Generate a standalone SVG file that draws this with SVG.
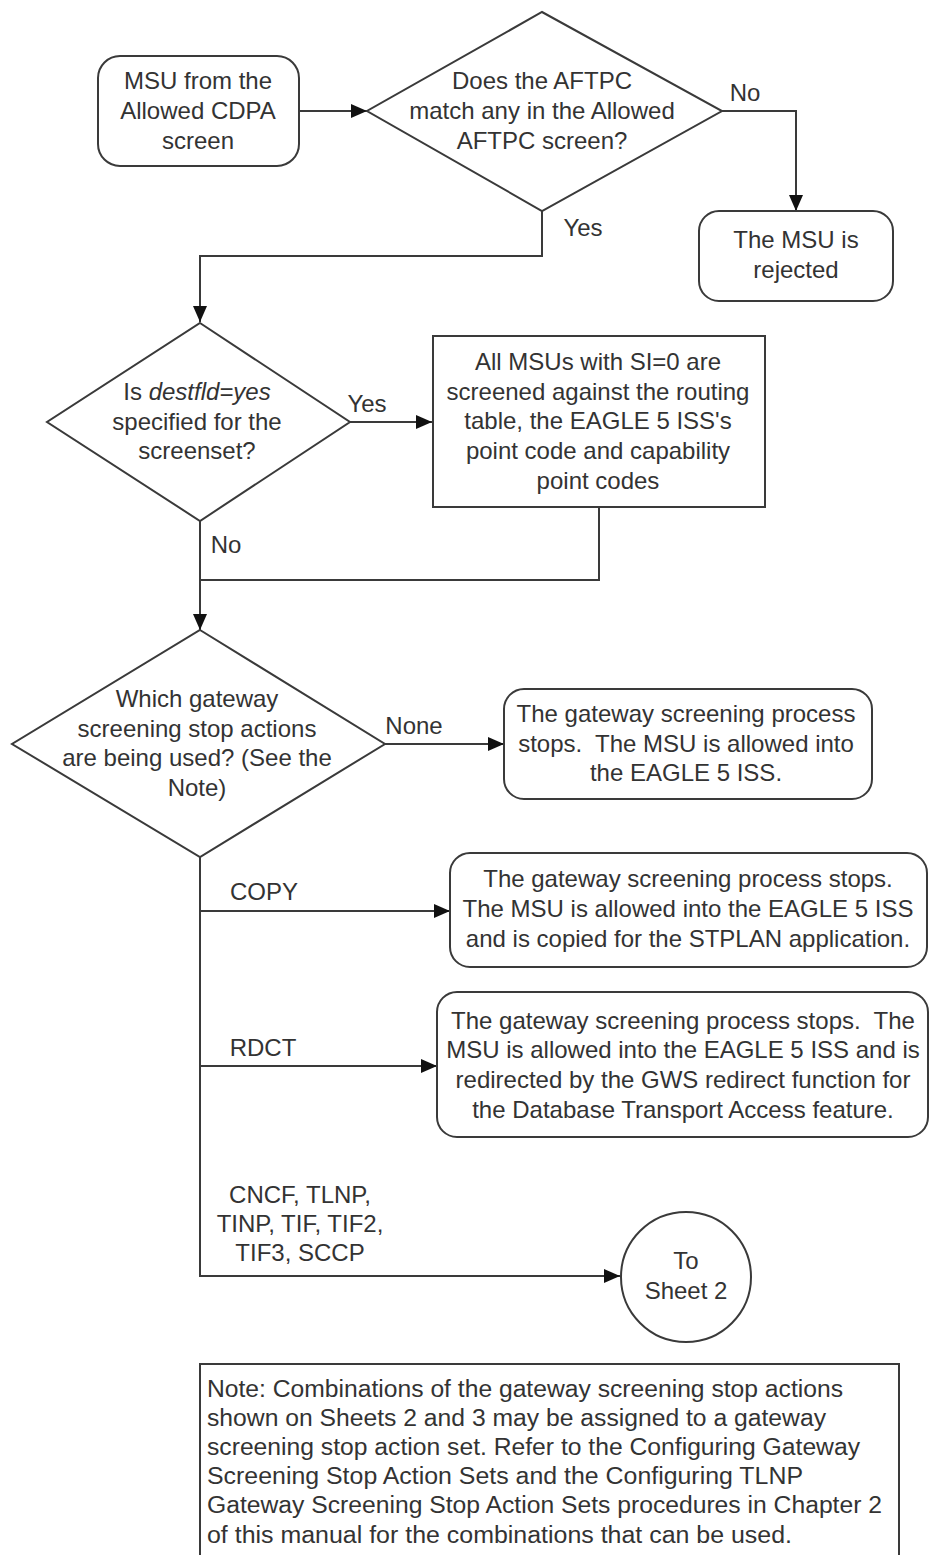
<svg xmlns="http://www.w3.org/2000/svg" width="929" height="1555" viewBox="0 0 929 1555">
<style>
text{font-family:"Liberation Sans",Arial,sans-serif;font-size:24px;fill:#333;text-anchor:middle}
.n{text-anchor:start;font-size:23px}
.s{fill:#fff;stroke:#3a3a3a;stroke-width:2}
.c{fill:none;stroke:#3a3a3a;stroke-width:2}
</style>
<defs>
<marker id="a" markerUnits="userSpaceOnUse" markerWidth="16" markerHeight="14" refX="16" refY="7" orient="auto">
<path d="M0,0 L16,7 L0,14 Z" fill="#111"/>
</marker>
</defs>
<rect width="929" height="1555" fill="#fff"/>
<g id="connectors">
<path class="c" d="M300,111 H367" marker-end="url(#a)"/>
<path class="c" d="M722,111 H796 V211" marker-end="url(#a)"/>
<path class="c" d="M542,211 V256 H200 V322" marker-end="url(#a)"/>
<path class="c" d="M350,422 H432" marker-end="url(#a)"/>
<path class="c" d="M200,521 V630" marker-end="url(#a)"/>
<path class="c" d="M599,507 V580 H200"/>
<path class="c" d="M385,744 H504" marker-end="url(#a)"/>
<path class="c" d="M200,857 V1276 H620" marker-end="url(#a)"/>
<path class="c" d="M200,911 H450" marker-end="url(#a)"/>
<path class="c" d="M200,1066 H437" marker-end="url(#a)"/>
<text x="745" y="101">No</text>
<text x="583" y="236">Yes</text>
<text x="367" y="412">Yes</text>
<text x="226" y="553">No</text>
<text x="414" y="734">None</text>
<text x="264" y="900">COPY</text>
<text x="263" y="1056">RDCT</text>
<text x="300" y="1203">CNCF, TLNP,</text>
<text x="300" y="1232">TINP, TIF, TIF2,</text>
<text x="300" y="1261">TIF3, SCCP</text>
</g>
<g id="start">
<rect class="s" x="98" y="56" width="201" height="110" rx="22"/>
<text x="198" y="89">MSU from the</text>
<text x="198" y="119">Allowed CDPA</text>
<text x="198" y="149">screen</text>
</g>
<g id="d1">
<polygon class="s" points="542,12 722,111 542,211 367,111"/>
<text x="542" y="89">Does the AFTPC</text>
<text x="542" y="119">match any in the Allowed</text>
<text x="542" y="149">AFTPC screen?</text>
</g>
<g id="rejected">
<rect class="s" x="699" y="211" width="194" height="90" rx="20"/>
<text x="796" y="248">The MSU is</text>
<text x="796" y="278">rejected</text>
</g>
<g id="d2">
<polygon class="s" points="200,323 350,422 200,521 47,422"/>
<text x="197" y="400">Is <tspan font-style="italic">destfld=yes</tspan></text>
<text x="197" y="430">specified for the</text>
<text x="197" y="459">screenset?</text>
</g>
<g id="si0">
<rect class="s" x="433" y="336" width="332" height="171"/>
<text x="598" y="370">All MSUs with SI=0 are</text>
<text x="598" y="400">screened against the routing</text>
<text x="598" y="429">table, the EAGLE 5 ISS's</text>
<text x="598" y="459">point code and capability</text>
<text x="598" y="489">point codes</text>
</g>
<g id="d3">
<polygon class="s" points="200,630 385,744 200,857 12,744"/>
<text x="197" y="707">Which gateway</text>
<text x="197" y="737">screening stop actions</text>
<text x="197" y="766">are being used? (See the</text>
<text x="197" y="796">Note)</text>
</g>
<g id="none">
<rect class="s" x="504" y="689" width="368" height="110" rx="20"/>
<text x="686" y="722">The gateway screening process</text>
<text x="686" y="752" xml:space="preserve">stops.  The MSU is allowed into</text>
<text x="686" y="781">the EAGLE 5 ISS.</text>
</g>
<g id="copy">
<rect class="s" x="450" y="853" width="477" height="114" rx="20"/>
<text x="688" y="887">The gateway screening process stops.</text>
<text x="688" y="917">The MSU is allowed into the EAGLE 5 ISS</text>
<text x="688" y="947">and is copied for the STPLAN application.</text>
</g>
<g id="rdct">
<rect class="s" x="437" y="992" width="491" height="145" rx="20"/>
<text x="683" y="1029" xml:space="preserve">The gateway screening process stops.  The</text>
<text x="683" y="1058">MSU is allowed into the EAGLE 5 ISS and is</text>
<text x="683" y="1088">redirected by the GWS redirect function for</text>
<text x="683" y="1118">the Database Transport Access feature.</text>
</g>
<g id="sheet2">
<circle class="s" cx="686" cy="1277" r="65"/>
<text x="686" y="1269">To</text>
<text x="686" y="1299">Sheet 2</text>
</g>
<g id="note">
<rect class="s" x="200" y="1364" width="699" height="200"/>
<text class="n" x="207" y="1397" textLength="636" lengthAdjust="spacingAndGlyphs">Note: Combinations of the gateway screening stop actions</text>
<text class="n" x="207" y="1426" textLength="619" lengthAdjust="spacingAndGlyphs">shown on Sheets 2 and 3 may be assigned to a gateway</text>
<text class="n" x="207" y="1455" textLength="653" lengthAdjust="spacingAndGlyphs">screening stop action set. Refer to the Configuring Gateway</text>
<text class="n" x="207" y="1484" textLength="596" lengthAdjust="spacingAndGlyphs">Screening Stop Action Sets and the Configuring TLNP</text>
<text class="n" x="207" y="1513" textLength="675" lengthAdjust="spacingAndGlyphs">Gateway Screening Stop Action Sets procedures in Chapter 2</text>
<text class="n" x="207" y="1543" textLength="585" lengthAdjust="spacingAndGlyphs">of this manual for the combinations that can be used.</text>
</g>
</svg>
